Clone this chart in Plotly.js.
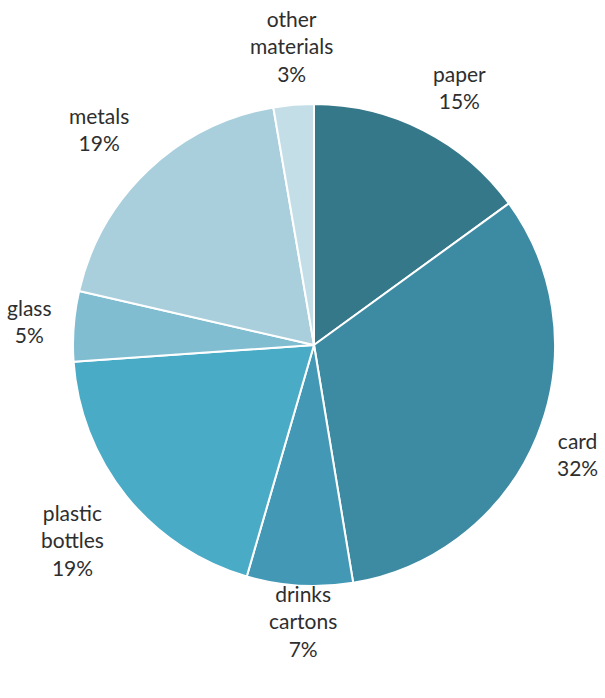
<!DOCTYPE html>
<html>
<head>
<meta charset="utf-8">
<script src="https://cdn.plot.ly/plotly-3.0.1.min.js"></script>
<style>html,body{margin:0;padding:0;background:#fff;}#chart{width:605px;height:698px;}</style>
</head>
<body>
<div id="chart"></div>
<script>
// Data
const categories = ["paper", "card", "drinks cartons", "plastic bottles", "glass", "metals", "other materials"];
const labelLines = ["paper", "card", "drinks<br>cartons", "plastic<br>bottles", "glass", "metals", "other<br>materials"];
const values = [15.0, 32.4, 7.1, 19.4, 4.7, 18.7, 2.7];
const colors = ["#35788A", "#3D8BA3", "#4399B5", "#4AABC6", "#80BDD0", "#A9CEDC", "#C4DEE7"];

// Layout geometry (pixels)
const W = 605, H = 698;
const cx = 314, cy = 345, r = 241;
const labelR = 1.22 * r;
// per-label nudges (px) to mimic best-fit label placement
const labelNudge = [[12, 4], [-8, -3], [7, -17], [-13, 10], [9, -1], [-13, -2], [2, -6]];

const total = values.reduce((a, b) => a + b, 0);
let cum = 0;
const annotations = [];
values.forEach((v, i) => {
  const mid = (cum + v / 2) / total * 2 * Math.PI;
  cum += v;
  const px = cx + labelR * Math.sin(mid) + labelNudge[i][0];
  const py = cy - labelR * Math.cos(mid) + labelNudge[i][1];
  const pct = Math.round(v / total * 100);
  annotations.push({
    x: px / W, y: 1 - py / H, xref: "paper", yref: "paper",
    xanchor: "center", yanchor: "middle", showarrow: false,
    text: labelLines[i] + "<br>" + pct + "%",
    font: {family: "Lato, 'Open Sans', sans-serif", size: 21, color: "#2e2e2e"},
    align: "center"
  });
});

const trace = {
  type: "pie",
  labels: categories,
  values: values,
  sort: false,
  direction: "clockwise",
  rotation: 0,
  textinfo: "none",
  hoverinfo: "label+percent",
  marker: {colors: colors, line: {color: "#ffffff", width: 2}},
  domain: {x: [(cx - r) / W, (cx + r) / W], y: [1 - (cy + r) / H, 1 - (cy - r) / H]},
  showlegend: false
};

const layout = {
  width: W, height: H,
  margin: {l: 0, r: 0, t: 0, b: 0},
  paper_bgcolor: "#ffffff",
  plot_bgcolor: "#ffffff",
  showlegend: false,
  annotations: annotations
};

Plotly.newPlot("chart", [trace], layout, {displayModeBar: false, staticPlot: true});
</script>
</body>
</html>
